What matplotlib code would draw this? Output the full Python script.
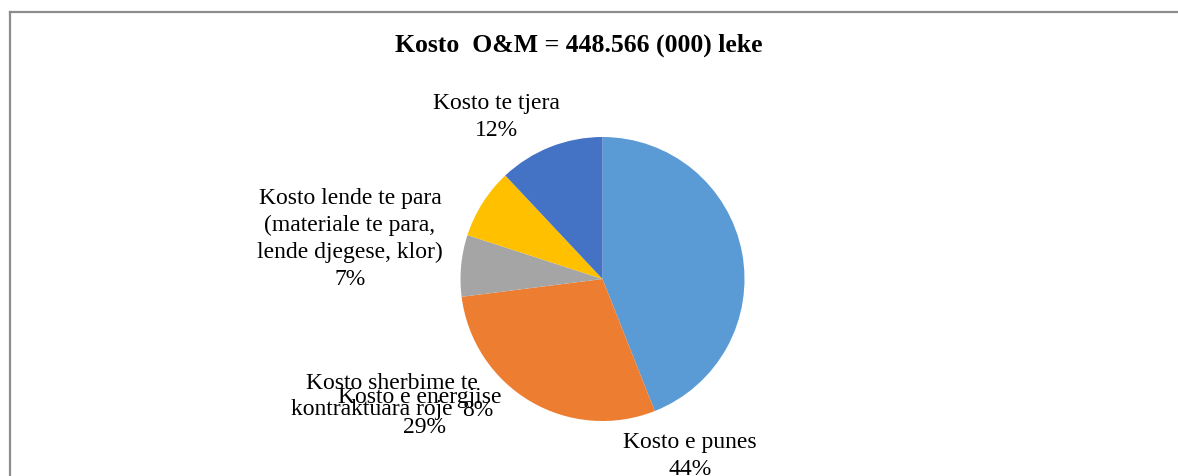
import matplotlib
matplotlib.use("Agg")
import matplotlib.pyplot as plt
from matplotlib.lines import Line2D

W, H = 1178, 477

title = "Kosto  O&M = 448.566 (000) leke"
categories = ["Kosto e punes",
              "Kosto sherbime te\nkontraktuara roje",
              "Kosto lende te para\n(materiale te para,\nlende djegese, klor)",
              "Kosto e energjise",
              "Kosto te tjera"]
values = [44, 29, 7, 8, 12]
colors = ["#5B9BD5", "#ED7D31", "#A5A5A5", "#FFC000", "#4472C4"]

plt.rcParams['font.family'] = ['Liberation Serif', 'DejaVu Serif']

fig = plt.figure(figsize=(W / 100, H / 100), dpi=100)
ax = fig.add_axes([0, 0, 1, 1])

def py(y):
    return H - y

ax.pie(values, colors=colors, startangle=90, counterclock=False,
       center=(602.5, py(280)), radius=142, frame=True,
       wedgeprops=dict(linewidth=0))
ax.set_xlim(0, W)
ax.set_ylim(0, H)
ax.set_aspect('equal')
ax.axis('off')

total = sum(values)
pcts = [f"{round(v / total * 100)}%" for v in values]

fs = 17
ls = 1.38

def put(txt, x, y, **kw):
    ax.text(x, py(y), txt, ha='center', va='center', fontsize=fs,
            color='black', linespacing=ls, **kw)

# Kosto e punes
put(categories[0] + "\n" + pcts[0], 690, 456)
# Kosto te tjera
put(categories[4] + "\n" + pcts[4], 496, 117)
# Kosto lende te para
put(categories[2] + "\n" + pcts[2], 350, 239)
# Kosto sherbime (lines placed individually, as in the original overlap)
l1, l2 = categories[1].split("\n")
put(l1, 392, 384)
put(l2, 372, 410)
put(pcts[1], 424, 428)
# Kosto e energjise
put(categories[3], 420, 398)
put(pcts[3], 478, 411)

fig.text(579 / W, 1 - 45 / H, title, ha='center', va='center',
         fontsize=18.5, fontweight='bold', color='black')

# chart border (top and left visible)
fig.add_artist(Line2D([10 / W, 1.0], [1 - 13 / H, 1 - 13 / H],
                      color='#8c8c8c', linewidth=1.6, transform=fig.transFigure))
fig.add_artist(Line2D([10 / W, 10 / W], [0, 1 - 13 / H],
                      color='#8c8c8c', linewidth=1.6, transform=fig.transFigure))

fig.savefig("out.png", dpi=100, facecolor='white')
